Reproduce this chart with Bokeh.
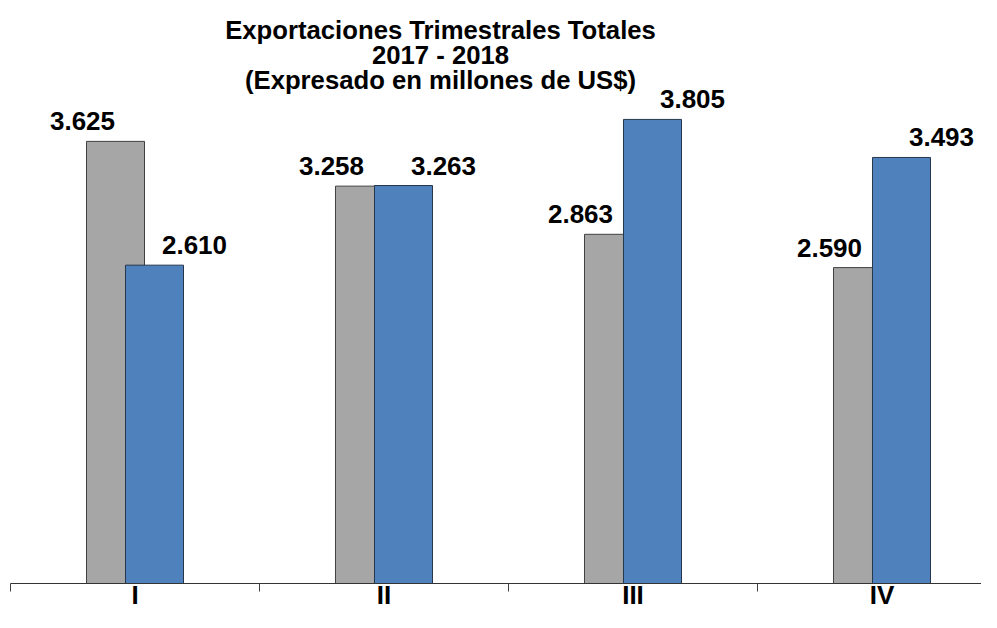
from bokeh.plotting import figure
from bokeh.models import Range1d, FixedTicker, ColumnDataSource, Label, LabelSet
from bokeh.core.properties import value
from bokeh.embed import file_html
from bokeh.resources import INLINE

# ---- data ----
quarters = ["I", "II", "III", "IV"]
exports_2017 = [3625, 3258, 2863, 2590]
exports_2018 = [2610, 3263, 3805, 3493]
title_lines = ["Exportaciones Trimestrales Totales", "2017 - 2018", "(Expresado en millones de US$)"]

FONT = "Liberation Sans"
GRAY = "#A6A6A6"
BLUE = "#4F81BD"

def fmt(v):
    return f"{v:,}".replace(",", ".")

centers = [i + 0.5 for i in range(len(quarters))]
shift = 0.0783
bar_w = 0.233

p = figure(width=981, height=612, output_backend="svg", toolbar_location=None,
           title=None,
           x_range=Range1d(0, 3.8996), y_range=Range1d(0, 4780),
           y_axis_location=None, min_border_left=10, min_border_right=0,
           min_border_top=0, min_border_bottom=29)
p.outline_line_color = None
p.xgrid.visible = False
p.ygrid.visible = False
p.background_fill_color = "white"
p.border_fill_color = "white"

src17 = ColumnDataSource(dict(x=[c - shift for c in centers], top=exports_2017,
                              label=[fmt(v) for v in exports_2017]))
src18 = ColumnDataSource(dict(x=[c + shift for c in centers], top=exports_2018,
                              label=[fmt(v) for v in exports_2018]))

p.vbar(x="x", top="top", width=bar_w, bottom=0, source=src17,
       fill_color=GRAY, line_color="#404040", line_width=1)
p.vbar(x="x", top="top", width=bar_w, bottom=0, source=src18,
       fill_color=BLUE, line_color="#26374d", line_width=1)

for src, dx in ((src17, -33), (src18, 40)):
    p.add_layout(LabelSet(x="x", y="top", text="label", source=src,
                          text_font=value(FONT), text_font_style="bold",
                          text_font_size="26px",
                          text_color="black", text_align="center",
                          text_baseline="alphabetic", x_offset=dx, y_offset=11))

# title lines
title_y = [4535, 4330, 4125]
for t, yy in zip(title_lines, title_y):
    p.add_layout(Label(x=1.727, y=yy, text=t, text_font=FONT, text_font_style="bold",
                       text_font_size="25.7px", text_color="black",
                       text_align="center", text_baseline="alphabetic"))

ax = p.xaxis[0]
ax.ticker = FixedTicker(ticks=centers, minor_ticks=[0, 1, 2, 3, 4])
ax.major_label_overrides = {c: q for c, q in zip(centers, quarters)}
ax.major_tick_out = 0
ax.major_tick_in = 0
ax.major_tick_line_color = None
ax.minor_tick_out = 8
ax.minor_tick_in = 0
ax.minor_tick_line_color = "#404040"
ax.minor_tick_line_width = 1
ax.axis_line_color = "#333333"
ax.axis_line_width = 1
ax.major_label_standoff = -12
ax.major_label_text_font = FONT
ax.major_label_text_font_style = "bold"
ax.major_label_text_font_size = "26px"
ax.major_label_text_color = "black"

open("out.html", "w").write(file_html(p, INLINE))
